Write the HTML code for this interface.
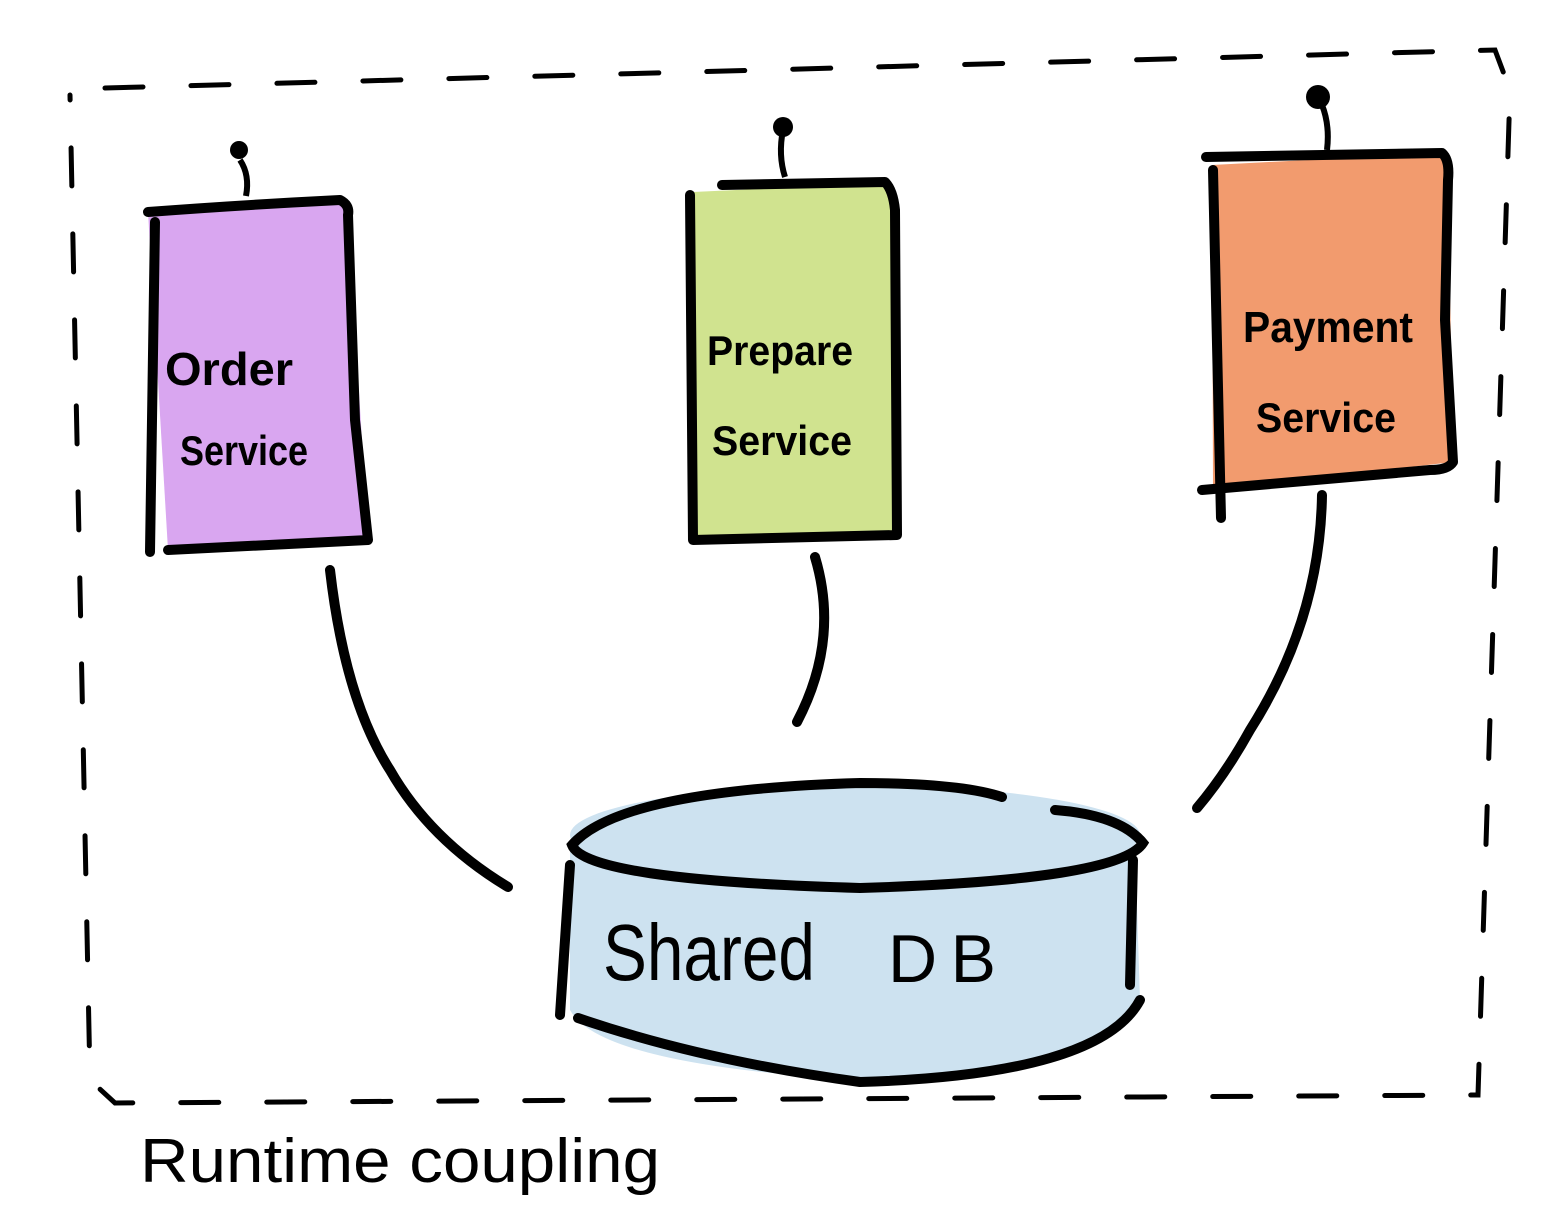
<!DOCTYPE html>
<html><head><meta charset="utf-8"><style>
html,body{margin:0;padding:0;background:#fff;}
svg{display:block;}
text{font-family:"Liberation Sans",sans-serif;fill:#000;}
</style></head><body>
<svg width="1566" height="1232" viewBox="0 0 1566 1232" xmlns="http://www.w3.org/2000/svg">
<!-- dashed frame -->
<path d="M105 88 L1495 50 L1510 90 L1478 1095 L115 1103 L90 1080 L70 95" fill="none" stroke="#000" stroke-width="5" stroke-dasharray="38 48" stroke-linecap="round"/>

<!-- Order Service -->
<path d="M148 212 L340 200 L348 210 L368 540 L168 550 Z" fill="#d9a6f0"/>
<path d="M148 212 Q240 205 340 200 Q350 205 348 215 L355 420 L368 540 L168 550" fill="none" stroke="#000" stroke-width="10" stroke-linejoin="round" stroke-linecap="round"/>
<path d="M155 222 L150 552" stroke="#000" stroke-width="10" stroke-linecap="round"/>
<path d="M246 196 Q250 175 240 160" fill="none" stroke="#000" stroke-width="6"/>
<circle cx="239" cy="150" r="9" fill="#000"/>
<text x="165" y="385" font-size="46" font-weight="bold" textLength="128" lengthAdjust="spacingAndGlyphs">Order</text>
<text x="180" y="465" font-size="42" font-weight="bold" textLength="128" lengthAdjust="spacingAndGlyphs">Service</text>

<!-- Prepare Service -->
<path d="M693 192 L885 183 L895 200 L897 535 L693 540 Z" fill="#d0e38f"/>
<path d="M722 185 L885 182 Q893 190 895 210 L897 535 L693 540 L690 195" fill="none" stroke="#000" stroke-width="10" stroke-linejoin="round" stroke-linecap="round"/>
<path d="M785 177 Q778 155 783 130" fill="none" stroke="#000" stroke-width="6"/>
<circle cx="783" cy="127" r="10" fill="#000"/>
<text x="707" y="365" font-size="42" font-weight="bold" textLength="146" lengthAdjust="spacingAndGlyphs">Prepare</text>
<text x="712" y="455" font-size="42" font-weight="bold" textLength="140" lengthAdjust="spacingAndGlyphs">Service</text>

<!-- Payment Service -->
<path d="M1212 165 L1442 153 L1448 170 L1453 462 L1213 490 Z" fill="#f29b6e"/>
<path d="M1206 157 L1442 153 Q1450 160 1448 180 L1445 320 L1453 462 Q1448 470 1430 470 L1202 490" fill="none" stroke="#000" stroke-width="10" stroke-linejoin="round" stroke-linecap="round"/>
<path d="M1213 170 L1221 518" stroke="#000" stroke-width="10" stroke-linecap="round"/>
<path d="M1327 150 Q1330 125 1322 105" fill="none" stroke="#000" stroke-width="6"/>
<circle cx="1318" cy="97" r="12" fill="#000"/>
<text x="1243" y="342" font-size="44" font-weight="bold" textLength="170" lengthAdjust="spacingAndGlyphs">Payment</text>
<text x="1256" y="432" font-size="42" font-weight="bold" textLength="140" lengthAdjust="spacingAndGlyphs">Service</text>

<!-- connectors -->
<path d="M330 570 Q345 700 390 770 Q430 840 508 887" fill="none" stroke="#000" stroke-width="10" stroke-linecap="round"/>
<path d="M815 557 Q840 640 797 722" fill="none" stroke="#000" stroke-width="10" stroke-linecap="round"/>
<path d="M1322 495 Q1320 620 1250 730 Q1225 775 1197 808" fill="none" stroke="#000" stroke-width="10" stroke-linecap="round"/>

<!-- DB -->
<path d="M570 850 L570 1010 Q600 1065 860 1080 Q1100 1070 1140 1000 L1135 845 Z" fill="#cde2f0"/>
<ellipse cx="855" cy="835" rx="285" ry="50" fill="#cde2f0"/>
<path d="M1002 797 Q960 783 860 783 Q620 790 572 845 Q585 880 860 888 Q1120 880 1143 843 Q1120 815 1055 810" fill="none" stroke="#000" stroke-width="10" stroke-linecap="round"/>
<path d="M570 865 L560 1015" stroke="#000" stroke-width="10" stroke-linecap="round"/>
<path d="M1133 860 L1130 985" stroke="#000" stroke-width="10" stroke-linecap="round"/>
<path d="M578 1018 Q700 1060 860 1082 Q1100 1075 1140 1000" fill="none" stroke="#000" stroke-width="10" stroke-linecap="round"/>
<text x="603" y="980" font-size="80" textLength="212" lengthAdjust="spacingAndGlyphs">Shared</text>
<text x="888" y="982" font-size="68" textLength="108" lengthAdjust="spacing">D B</text>

<text x="140" y="1182" font-size="62" textLength="520" lengthAdjust="spacingAndGlyphs">Runtime coupling</text>
</svg>
</body></html>
